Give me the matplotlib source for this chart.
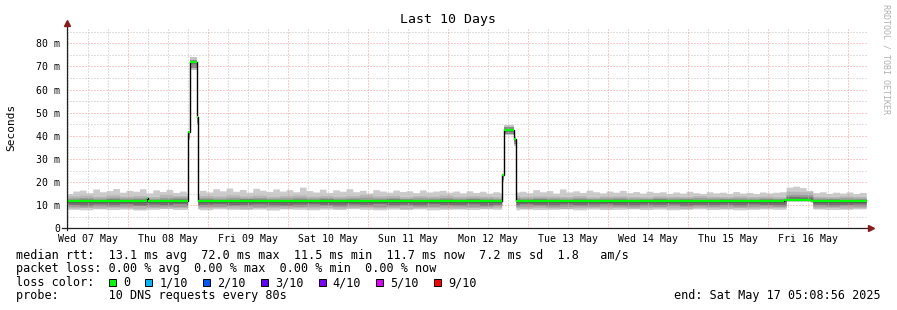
import matplotlib

matplotlib.use("Agg")
import matplotlib.pyplot as plt
import numpy as np
from matplotlib.patches import Rectangle

# ── data ──────────────────────────────────────────────────────────────────────
# x is hours since the left edge of the graph (10 days = 240 h)
first_midnight = 18.48  # Thu 08 May 00:00
day_labels = ["Wed 07 May", "Thu 08 May", "Fri 09 May", "Sat 10 May", "Sun 11 May",
              "Mon 12 May", "Tue 13 May", "Wed 14 May", "Thu 15 May", "Fri 16 May"]

# smoke top (slowest ping), one value per 2 h, in ms
smoke_top = [
    14.8, 15.9, 16.3, 15.2, 16.8, 15.6, 16.1, 17.0, 15.4, 16.2,
    15.8, 16.9, 15.1, 16.4, 15.7, 16.6, 15.3, 15.9, 15.0, 15.0,
    16.2, 15.5, 16.9, 16.0, 17.2, 15.8, 16.6, 15.4, 17.1, 16.3,
    15.7, 16.8, 15.9, 16.5, 15.6, 17.6, 16.1, 15.5, 16.7, 15.3,
    16.4, 15.8, 16.9, 15.6, 16.2, 15.1, 16.5, 15.9, 15.4, 16.3,
    15.7, 16.0, 15.2, 16.4, 15.5, 15.9, 16.2, 15.4, 15.9, 15.1,
    16.0, 15.3, 15.8, 15.0, 15.6, 15.2, 15.2, 15.5, 15.8, 15.2,
    16.5, 15.6, 16.1, 15.0, 16.8, 15.5, 16.0, 15.3, 16.3, 15.6,
    15.1, 15.9, 15.4, 16.2, 15.2, 15.7, 15.0, 15.8, 15.3, 15.6,
    14.9, 15.5, 15.0, 15.8, 15.2, 14.8, 15.6, 15.1, 15.4, 14.9,
    15.7, 15.0, 15.3, 14.8, 15.5, 15.1, 15.4, 15.6, 17.6, 18.0,
    17.4, 16.2, 15.2, 15.6, 14.9, 15.4, 15.0, 15.5, 14.8, 15.3,
]

# sorted pings 1,2,3,4 and 7,8,9, one value per 4 h, in ms
ping1 = [
    8.0, 7.8, 8.2, 7.9, 8.1, 7.7, 8.0, 8.3, 7.9, 8.1,
    7.8, 8.2, 8.0, 7.9, 8.1, 7.7, 8.2, 8.0, 7.8, 8.1,
    7.9, 8.3, 8.0, 7.8, 8.1, 7.9, 8.2, 7.8, 8.0, 8.1,
    7.9, 8.2, 8.0, 7.8, 8.1, 7.9, 8.0, 8.2, 7.8, 8.1,
    7.9, 8.0, 8.2, 7.9, 8.1, 7.8, 8.0, 8.2, 7.9, 8.1,
    7.8, 8.0, 8.2, 8.0, 11.9, 11.9, 8.1, 7.9, 8.0, 8.2,
]
ping2 = [
    8.6, 8.8, 8.5, 8.9, 8.7, 8.4, 8.8, 8.6, 8.9, 8.5,
    8.7, 8.9, 8.6, 8.4, 8.8, 8.7, 8.5, 8.9, 8.6, 8.8,
    8.5, 8.7, 8.9, 8.6, 8.8, 8.4, 8.7, 8.9, 8.6, 8.5,
    8.8, 8.6, 8.9, 8.7, 8.5, 8.8, 8.6, 8.4, 8.7, 8.9,
    8.6, 8.8, 8.5, 8.7, 8.9, 8.6, 8.4, 8.8, 8.7, 8.5,
    8.8, 8.6, 8.7, 8.9, 12.0, 12.0, 8.6, 8.8, 8.5, 8.7,
]
ping3 = [
    9.3, 9.1, 9.5, 9.2, 9.4, 9.6, 9.2, 9.4, 9.1, 9.5,
    9.3, 9.2, 9.6, 9.4, 9.1, 9.3, 9.5, 9.2, 9.4, 9.6,
    9.2, 9.5, 9.3, 9.1, 9.4, 9.6, 9.3, 9.2, 9.5, 9.4,
    9.1, 9.3, 9.6, 9.2, 9.4, 9.5, 9.1, 9.3, 9.4, 9.2,
    9.5, 9.3, 9.1, 9.4, 9.2, 9.6, 9.3, 9.5, 9.2, 9.4,
    9.1, 9.3, 9.5, 9.2, 12.1, 12.1, 9.4, 9.2, 9.5, 9.3,
]
ping4 = [
    10.1, 9.9, 10.3, 10.0, 10.4, 9.8, 10.2, 10.0, 10.5, 9.9,
    10.2, 10.4, 9.9, 10.1, 10.3, 10.0, 9.8, 10.2, 10.4, 10.1,
    9.9, 10.3, 10.1, 10.5, 10.0, 10.2, 9.9, 10.4, 10.1, 10.0,
    10.3, 9.8, 10.2, 10.0, 10.4, 10.1, 9.9, 10.3, 10.0, 10.2,
    10.4, 10.0, 9.9, 10.2, 10.1, 10.3, 9.8, 10.1, 10.0, 10.2,
    9.9, 10.3, 10.1, 10.0, 12.2, 12.2, 10.2, 9.9, 10.1, 10.3,
]
ping7 = [
    12.3, 12.4, 12.2, 12.5, 12.3, 12.4, 12.2, 12.3, 12.5, 12.3,
    12.4, 12.2, 12.3, 12.5, 12.4, 12.3, 12.2, 12.4, 12.3, 12.5,
    12.3, 12.4, 12.2, 12.3, 12.5, 12.4, 12.2, 12.3, 12.4, 12.3,
    12.5, 12.3, 12.2, 12.4, 12.3, 12.5, 12.3, 12.2, 12.4, 12.3,
    12.3, 12.4, 12.2, 12.3, 12.5, 12.3, 12.4, 12.2, 12.3, 12.4,
    12.3, 12.2, 12.4, 12.3, 13.6, 13.4, 12.3, 12.4, 12.2, 12.3,
]
ping8 = [
    12.9, 13.1, 12.8, 13.2, 12.9, 13.0, 12.7, 13.1, 13.3, 12.9,
    13.0, 12.8, 13.2, 12.9, 13.1, 12.8, 13.0, 13.2, 12.9, 13.1,
    12.8, 13.0, 13.2, 12.9, 13.1, 12.7, 13.0, 12.9, 13.1, 12.8,
    13.0, 12.9, 12.7, 13.1, 12.8, 13.0, 12.9, 12.8, 13.0, 12.7,
    12.9, 13.0, 12.8, 12.7, 13.0, 12.9, 12.8, 13.1, 12.9, 12.8,
    13.0, 12.8, 12.9, 12.7, 14.6, 14.4, 12.9, 12.8, 13.0, 12.8,
]
ping9 = [
    13.8, 14.1, 13.6, 14.2, 13.7, 14.0, 13.5, 14.3, 13.9, 13.6,
    14.0, 13.7, 14.2, 13.8, 14.1, 13.6, 13.9, 14.2, 13.7, 14.0,
    13.6, 13.9, 14.3, 13.8, 14.0, 13.5, 13.9, 13.7, 14.1, 13.6,
    13.9, 13.7, 13.5, 14.0, 13.6, 13.8, 13.7, 13.5, 13.9, 13.4,
    13.7, 13.8, 13.5, 13.4, 13.8, 13.6, 13.5, 13.9, 13.6, 13.5,
    13.8, 13.5, 13.7, 13.4, 15.8, 15.6, 13.6, 13.5, 13.8, 13.6,
]

# the two latency spikes: segment start/end (h), median, smoke range
spike_start = [36.4, 37.0, 39.0, 130.7, 131.1, 134.3]
spike_end = [37.0, 39.0, 39.5, 131.1, 134.3, 134.9]
spike_lo = [38.0, 68.5, 44.6, 20.0, 40.3, 35.5]
spike_hi = [42.3, 74.3, 49.0, 23.5, 44.8, 39.3]
spike_core_lo = [39.0, 69.5, 45.5, 21.0, 41.0, 36.5]
spike_core_hi = [41.8, 72.8, 48.4, 23.2, 43.8, 38.9]

# median rtt as a step series
median_t = [0, 24.0, 24.3, 36.4, 37.0, 39.0, 39.5, 130.7, 131.1, 134.3, 134.9,
            215.3, 219.5, 223.3, 240]
median_v = [11.7, 12.9, 11.7, 41.5, 72.0, 48.2, 11.7, 23.0, 42.5, 38.5, 11.7,
            12.4, 12.1, 11.6]

loss_labels = ["0", "1/10", "2/10", "3/10", "4/10", "5/10", "9/10"]
loss_colors = ["#00ff00", "#00b8ff", "#0059ff", "#5e00ff", "#7e00ff", "#dd00ff", "#ff0000"]

legend_lines = [
    "median rtt:  13.1 ms avg  72.0 ms max  11.5 ms min  11.7 ms now  7.2 ms sd  1.8   am/s",
    "packet loss: 0.00 % avg  0.00 % max  0.00 % min  0.00 % now",
]

# ── figure ────────────────────────────────────────────────────────────────────
plt.rcParams["font.family"] = "DejaVu Sans Mono"
W, H = 897, 310
fig = plt.figure(figsize=(W / 100, H / 100), dpi=100)
ax_l, ax_r, ax_t, ax_b = 66.7, 866.7, 26.7, 228.3
ax = fig.add_axes([ax_l / W, (H - ax_b) / H, (ax_r - ax_l) / W, (ax_b - ax_t) / H])
ax.set_xlim(0, 240)
ax.set_ylim(0, 87.2)
for s in ax.spines.values():
    s.set_visible(False)

# smoke, drawn on a fine grid with the spike periods cut out
xf = np.linspace(0, 240, 4801)
gap = np.zeros_like(xf, dtype=bool)
for a, b in [(spike_start[0], spike_end[2]), (spike_start[3], spike_end[5])]:
    gap |= (xf > a) & (xf < b)


def lookup(vals, step):
    idx = np.clip((xf // step).astype(int), 0, len(vals) - 1)
    return np.asarray(vals, dtype=float)[idx]


layers = [
    (lookup(ping1, 4), lookup(smoke_top, 2), "#cccccc"),
    (lookup(ping2, 4), lookup(ping9, 4), "#b4b4b4"),
    (lookup(ping3, 4), lookup(ping8, 4), "#9a9a9a"),
    (lookup(ping4, 4), lookup(ping7, 4), "#727272"),
]
for lo, hi, col in layers:
    ax.fill_between(xf, lo, hi, where=~gap, color=col, lw=0, zorder=1)

for t0, t1, lo, hi, clo, chi in zip(spike_start, spike_end, spike_lo, spike_hi,
                                     spike_core_lo, spike_core_hi):
    ax.fill_between([t0, t1], lo, hi, color="#c4c4c4", lw=0, zorder=1)
    ax.fill_between([t0, t1], clo, chi, color="#8a8a8a", lw=0, zorder=1)

# grid (rrdtool paints it over the areas)
dots = (0, (1, 2))
for v in np.arange(5, 87, 10):
    ax.axhline(v, color="#c0c0c0", lw=0.72, ls=dots, zorder=2)
for v in np.arange(10, 87, 10):
    ax.axhline(v, color="#f08080", lw=0.72, ls=dots, zorder=2, alpha=0.8)
six_h = np.arange(first_midnight - 18, 240, 6)
for v in six_h:
    major = abs(((v - first_midnight) / 24) - round((v - first_midnight) / 24)) < 1e-6
    ax.axvline(v, color="#f08080" if major else "#c0c0c0", lw=0.72, ls=dots,
               zorder=2, alpha=0.8 if major else 1)

# median line: black steps, green (loss 0) horizontal segments
ax.step(median_t, median_v + [median_v[-1]], where="post", color="black", lw=1.0, zorder=3)
ax.hlines(median_v, median_t[:-1], median_t[1:], colors=loss_colors[0], lw=1.6, zorder=4)

# axis lines with arrows
axis_col, arrow_col = "#202020", "#8b1a1a"
ax.plot([-5 / 800, 803 / 800], [0, 0], transform=ax.transAxes, color=axis_col,
        lw=0.9, clip_on=False, zorder=5)
ax.plot([0, 0], [-2 / 201.6, 1.012], transform=ax.transAxes, color=axis_col,
        lw=0.9, clip_on=False, zorder=5)
ax.plot([1.0055], [0], marker=">", ms=4.5, color=arrow_col, transform=ax.transAxes,
        clip_on=False, zorder=6)
ax.plot([0], [1.019], marker="^", ms=4.5, color=arrow_col, transform=ax.transAxes,
        clip_on=False, zorder=6)

# tick labels
noons = [first_midnight - 12 + 24 * k for k in range(len(day_labels))]
ax.set_xticks(noons, day_labels)
yt = np.arange(0, 81, 10)
ax.set_yticks(yt, ["0"] + [f"{v} m" for v in yt[1:]])
ax.tick_params(length=0, labelsize=7.1, colors="black")
ax.tick_params(axis="x", pad=4.0)
ax.tick_params(axis="y", pad=4.8)

# titles and side text
fig.text(448 / W, 1 - 19 / H, "Last 10 Days", ha="center", va="center", fontsize=9.5)
fig.text(11 / W, 1 - 127 / H, "Seconds", ha="center", va="center", rotation=90, fontsize=8)
fig.text(886 / W, 1 - 59 / H, "RRDTOOL / TOBI OETIKER", ha="center", va="center",
         rotation=270, fontsize=6, color="#b0b0b0")

# legend block
fs = 8.5
cw = 7.1
rows = [255, 268.5, 282.5, 296]
for y, line in zip(rows[:2], legend_lines):
    fig.text(16 / W, 1 - y / H, line, ha="left", va="center", fontsize=fs)
fig.text(16 / W, 1 - rows[2] / H, "loss color:", ha="left", va="center", fontsize=fs)
bx = 109
for lab, col in zip(loss_labels, loss_colors):
    fig.add_artist(Rectangle((bx / W, 1 - (rows[2] + 3.5) / H), 7 / W, 7 / H,
                             facecolor=col, edgecolor="black", lw=0.7,
                             transform=fig.transFigure))
    fig.text((bx + 14.3) / W, 1 - rows[2] / H, lab, ha="left", va="center", fontsize=fs)
    bx = bx + 14.3 + cw * len(lab) + 15
fig.text(16 / W, 1 - rows[3] / H, "probe:       10 DNS requests every 80s",
         ha="left", va="center", fontsize=fs)
fig.text(881 / W, 1 - rows[3] / H, "end: Sat May 17 05:08:56 2025",
         ha="right", va="center", fontsize=fs)

fig.savefig("out.png", dpi=100)
